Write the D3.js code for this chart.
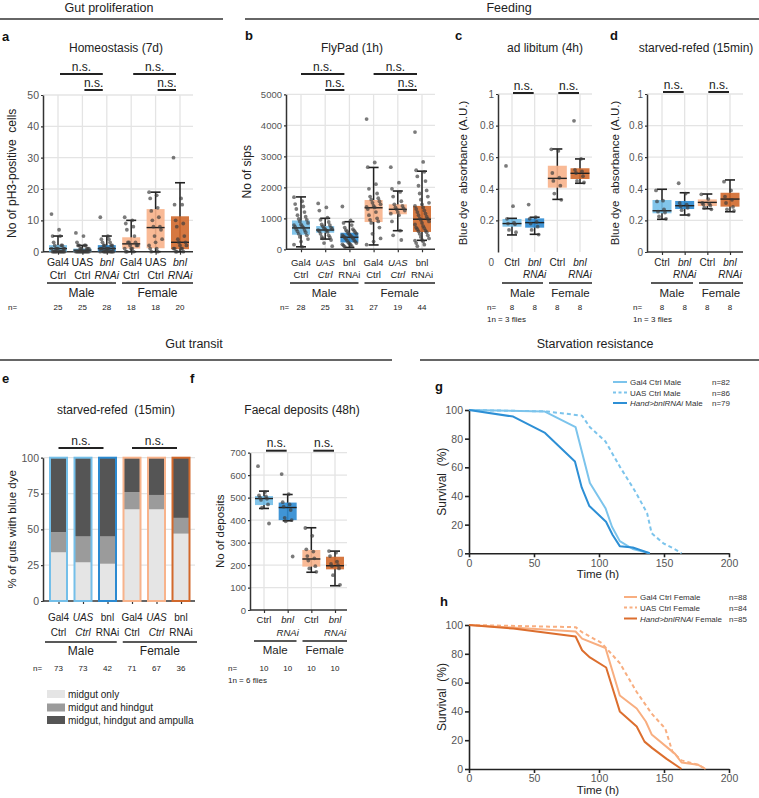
<!DOCTYPE html>
<html><head><meta charset="utf-8">
<script src="https://cdn.jsdelivr.net/npm/d3@7"></script>
<style>body{margin:0;background:#fff} text{white-space:pre}</style>
</head><body><script>
// ---------------- DATA ----------------
const LB = "#74bfe9", DB = "#2b8ad1", LO = "#f8b38b", DO = "#d2692c";
// Panel a: Homeostasis (7d) -- stats [low whisker, q1, median, q3, high whisker]
const aLab1 = ["Gal4","UAS","bnl","Gal4","UAS","bnl"];
const aLab2 = ["Ctrl","Ctrl","RNAi","Ctrl","Ctrl","RNAi"];
const aItal = [0,0,1,0,0,1];
const aStats = [[0,0,1,2.1,5],[0,0,0.5,1,2],[0,0,1,2.1,5],[0,1,2.5,4.6,10],[0,1.1,7.7,13.6,19],[0,0.8,3,11.3,22]];
const aPoints = [
  [12,7,5,5,3,2,2,2,1,1,1,1,1,1,0,0,0,0,0,0,0,0,0,0,0],
  [6,5,3,2,2,2,2,1,1,1,1,1,0,0,0,0,0,0,0,0,0,0,0,0,0],
  [11,5,4,4,3,3,2,2,2,2,1,1,1,1,1,1,1,1,0,0,0,0,0,0,0,0,0,0],
  [11,10,9,8,7,5,3,3,3,2,2,2,1,1,1,0,0,0],
  [19,18,17,14,13,11,10,8,8,7,5,4,3,2,1,1,0,0],
  [30,17,15,15,10,9,8,5,4,3,3,2,2,1,1,1,1,0,0,0]];
const aN = [25,25,28,18,18,20];
const aTicks = [0,10,20,30,40,50];
// Panel b: FlyPad (1h)
const bLab1 = ["Gal4","UAS","bnl","Gal4","UAS","bnl"];
const bLab2 = ["Ctrl","Ctrl","RNAi","Ctrl","Ctrl","RNAi"];
const bItal = [0,1,0,0,1,0];
const bStats = [[80,470,690,930,1690],[330,535,622,750,1000],[60,220,390,535,890],[140,880,1340,1590,2640],[600,1130,1290,1450,1880],[290,560,970,1400,2520]];
const bPoints = [
  [1680,1550,1460,1380,1300,1200,1100,1050,980,950,900,850,800,780,750,720,700,650,620,580,550,500,450,400,330,250,150,80],
  [1480,1350,1250,1020,950,880,800,780,740,700,680,660,650,620,600,580,560,500,450,400,380,350,300,200,100],
  [1380,930,850,780,700,650,620,600,580,550,520,500,480,460,440,420,400,380,360,340,300,280,250,220,200,180,160,150,120,100,80],
  [4200,2800,2650,2100,1950,1800,1700,1650,1600,1550,1500,1450,1400,1370,1350,1300,1200,1100,1000,950,900,850,700,500,350,250,150],
  [2650,2150,1950,1850,1700,1550,1450,1400,1350,1320,1290,1250,1200,1150,1100,900,600,450,300],
  [3780,2820,2550,2500,2350,2200,2050,1900,1800,1700,1600,1500,1450,1400,1350,1300,1250,1200,1150,1100,1050,1000,980,950,900,850,800,750,700,680,650,600,580,550,500,450,400,350,300,280,250,200,150,100]];
const bN = [28,25,31,27,19,44];
const bTicks = [0,1000,2000,3000,4000,5000];
// Panels c, d, f share categories
const cdLab1 = ["Ctrl","bnl","Ctrl","bnl"];
const cdLab2 = ["","RNAi","","RNAi"];
const cdItal = [0,1,0,1];
// Panel c: ad libitum (4h)
const cStats = [[0.108,0.16,0.18,0.209,0.213],[0.112,0.154,0.186,0.213,0.22],[0.333,0.407,0.466,0.546,0.652],[0.435,0.462,0.498,0.53,0.589]];
const cPoints = [[0.545,0.29,0.21,0.185,0.18,0.175,0.14,0.125],[0.30,0.22,0.21,0.19,0.18,0.16,0.14,0.11],
  [0.65,0.64,0.50,0.47,0.45,0.42,0.37,0.33],[0.83,0.59,0.52,0.51,0.50,0.48,0.45,0.44]];
const cN = [8,8,8,8];
const absTicks = [0,0.2,0.4,0.6,0.8,1];
// Panel d: starved-refed (15min)
const dStats = [[0.207,0.245,0.261,0.329,0.397],[0.234,0.272,0.293,0.323,0.375],[0.274,0.291,0.314,0.333,0.367],[0.255,0.287,0.335,0.375,0.456]];
const dPoints = [[0.39,0.325,0.32,0.27,0.255,0.25,0.225,0.21],[0.435,0.37,0.31,0.30,0.29,0.28,0.265,0.235],
  [0.365,0.335,0.31,0.305,0.30,0.295,0.28,0.27],[0.445,0.39,0.35,0.33,0.31,0.285,0.27,0.26]];
const dN = [8,8,8,8];
// Panel e: gut transit stacked percentages
const eLab1 = ["Gal4","UAS","bnl","Gal4","UAS","bnl"];
const eLab2 = ["Ctrl","Ctrl","RNAi","Ctrl","Ctrl","RNAi"];
const eItal = [0,1,0,0,1,0];
const eMidgut = [34,27,26,64,64,47];
const eHindgut = [14,18,19,12,10,11];
const eAmpulla = [52,55,55,24,26,42];
const eN = [73,73,42,71,67,36];
const eTicks = [0,25,50,75,100];
const eSeries = ["midgut only","midgut and hindgut","midgut, hindgut and ampulla"];
// Panel f: faecal deposits (48h)
const fStats = [[452,467,496,507,529],[397,400,456,478,514],[168,193,227,267,366],[108,181,197,237,262]];
const fPoints = [[640,525,510,505,500,495,490,470,455,385],[605,515,480,470,460,445,410,400,395,238],
  [365,330,270,260,240,230,220,195,185,170],[262,255,240,215,205,200,195,185,155,112]];
const fN = [10,10,10,10];
const fTicks = [0,100,200,300,400,500,600,700];
// Panel g: male survival
const survTicksX = [0,50,100,150,200];
const survTicksY = [0,20,40,60,80,100];
const gGal4T = [0,58,82,93,105,110,116,126,139];
const gGal4S = [100,99,88,49,31.5,18.5,8.5,3,0];
const gUasT = [0,60,87,93,105,116,128,137,140.5,149.5,157,163.5];
const gUasS = [100,99,96,88,78,60.5,43,28,14,7,3.5,0];
const gBnlT = [0,34,58.5,81.5,86.7,92.6,105.4,110.5,116,126,139];
const gBnlS = [100,95.4,84,64,46,33,22,12.8,5,4,0];
const gNames = ["Gal4 Ctrl Male","UAS Ctrl Male","Male"];
const gN = ["n=82","n=86","n=79"];
// Panel h: female survival
const hGal4T = [0,82,87,105,116,129,136,140.5,158.5,163.5,176,182];
const hGal4S = [100,95.5,90.5,84,51,42,33,24,10.5,4.5,3,0];
const hUasT = [0,82,87,102,116,129,140.5,151,156.5,163.5,176,182];
const hUasS = [100,98.5,95,87.5,73.5,53.5,38.5,28,12,6,3,0];
const hBnlT = [0,34,82,87,93,105.5,116,129,135,141,152,163.5];
const hBnlS = [100,97.5,92,82.5,77.5,70.5,40,29.5,19,14.5,7,0];
const hNames = ["Gal4 Ctrl Female","UAS Ctrl Female","Female"];
const hN = ["n=88","n=84","n=85"];

// ---------------- DRAWING ----------------
const F = "'Liberation Sans', Arial, Helvetica, sans-serif";
const GRID = "#e4e4e4", AX = "#333", TK = "#555";
const svg = d3.select("body").append("svg").attr("width",759).attr("height",798).style("display","block");

function T(x,y,s,o={}) {
  const t = svg.append("text").attr("x",x).attr("y",y).text(s)
    .attr("font-family",F).attr("font-size",o.fs||12).attr("fill",o.fill||"#222")
    .attr("text-anchor",o.anchor||"middle");
  if (o.bold) t.attr("font-weight","bold");
  if (o.italic) t.attr("font-style","italic");
  return t;
}
function L(x1,y1,x2,y2,o={}) {
  return svg.append("line").attr("x1",x1).attr("y1",y1).attr("x2",x2).attr("y2",y2)
    .attr("stroke",o.stroke||"#222").attr("stroke-width",o.w||1.5);
}
function yLabel(cx, cy, s, fs) {
  svg.append("text").attr("transform",`translate(${cx+fs*0.35},${cy}) rotate(-90)`)
    .attr("text-anchor","middle").attr("font-family",F).attr("font-size",fs).attr("fill","#222").text(s);
}
function styleAxis(g, fs) {
  g.selectAll(".domain").attr("stroke",AX).attr("stroke-width",1.5);
  g.selectAll(".tick line").attr("stroke",AX).attr("stroke-width",1.2);
  g.selectAll(".tick text").attr("font-family",F).attr("font-size",fs).attr("fill",TK);
}
const jit = (k) => (((k*7)%13)/12 - 0.5);

// Section headers
T(109,11.5,"Gut proliferation",{fs:12.5}); L(0,19,223,19,{stroke:"#333"});
T(509,11.5,"Feeding",{fs:12.5}); L(245,19,759,19,{stroke:"#333"});
T(194,348,"Gut transit",{fs:12.5}); L(0,360,392,360,{stroke:"#333"});
T(595,348,"Starvation resistance",{fs:12.5}); L(420,360,759,360,{stroke:"#333"});

// Panel letters
[["a",2,41],["b",245,40],["c",455,40],["d",610,40],["e",2,383],["f",190,383],["g",435,391],["h",440,606]]
  .forEach(([s,x,y]) => T(x,y,s,{bold:true,anchor:"start",fs:13,fill:"#111"}));

// Titles
T(116,52,"Homeostasis (7d)");
T(352,52,"FlyPad (1h)");
T(545,52,"ad libitum (4h)");
T(696,52,"starved-refed (15min)");
T(116,414,"starved-refed  (15min)");
T(302,414,"Faecal deposits (48h)");

function boxPanel(c) {
  const n = c.stats.length;
  const y = d3.scaleLinear().domain([c.ticks[0], c.ticks[c.ticks.length-1]]).range([c.yBot, c.yTop]);
  const x = d3.scalePoint().domain(d3.range(n)).range([c.c0, c.c1]);
  const g = svg.append("g");
  g.selectAll(null).data(c.ticks.slice(1)).join("line")
    .attr("x1",c.ax).attr("x2",c.right).attr("y1",d=>y(d)).attr("y2",d=>y(d))
    .attr("stroke",GRID).attr("stroke-width",1.3);
  g.selectAll(null).data(x.domain()).join("line")
    .attr("x1",d=>x(d)).attr("x2",d=>x(d)).attr("y1",c.yTop).attr("y2",c.yBot)
    .attr("stroke",GRID).attr("stroke-width",1.3);
  const fmt = c.fmt || (d=>d);
  const ya = g.append("g").attr("transform",`translate(${c.ax},0)`)
    .call(d3.axisLeft(y).tickValues(c.shown || c.ticks).tickSize(2).tickPadding(2).tickSizeOuter(0).tickFormat(fmt));
  styleAxis(ya, c.tickFs);
  if (c.xAxis) {
    const xa = g.append("g").attr("transform",`translate(0,${c.yBot})`)
      .call(d3.axisBottom(x).tickSize(3).tickFormat(""));
    xa.select(".domain").remove();
    styleAxis(xa, c.tickFs);
    g.append("line").attr("x1",c.ax).attr("x2",c.right).attr("y1",c.yBot).attr("y2",c.yBot)
      .attr("stroke",AX).attr("stroke-width",1.5);
  }
  const bw = c.bw, cap = 5;
  c.stats.forEach((s,i) => {
    const [lo,q1,md,q3,hi] = s, cx = x(i);
    g.append("line").attr("x1",cx).attr("x2",cx).attr("y1",y(lo)).attr("y2",y(hi)).attr("stroke","#222").attr("stroke-width",1.5);
    g.append("rect").attr("x",cx-bw/2).attr("width",bw).attr("y",y(q3)).attr("height",Math.max(1,y(q1)-y(q3)))
      .attr("fill",c.colors[i]).attr("fill-opacity",0.9);
    [lo,hi].forEach(v => g.append("line").attr("x1",cx-cap).attr("x2",cx+cap).attr("y1",y(v)).attr("y2",y(v)).attr("stroke","#222").attr("stroke-width",1.6));
    g.append("line").attr("x1",cx-bw/2).attr("x2",cx+bw/2).attr("y1",y(md)).attr("y2",y(md)).attr("stroke","#222").attr("stroke-width",1.4);
    g.selectAll(null).data(c.points[i]).join("circle")
      .attr("cx",(d,k)=>cx + jit(k)*c.jw).attr("cy",d=>y(d)).attr("r",1.9)
      .attr("fill","#3c3c3c").attr("fill-opacity",0.68);
  });
  c.sig.forEach(([i,j,r]) => {
    const x1 = x(i)+c.sigPad[0], x2 = x(j)-c.sigPad[1], yy = c.sigY[r];
    L(x1,yy,x2,yy,{w:2,stroke:"#222"});
    T((x1+x2)/2, yy-3.5, "n.s.", {fs:12});
  });
  d3.range(n).forEach(i => {
    if (c.lab1[i]) T(x(i), c.lab1Y, c.lab1[i], {fs:c.labFs, italic:!!c.ital[i]});
    if (c.lab2[i]) T(x(i), c.lab2Y, c.lab2[i], {fs:c.labFs, italic:!!c.ital[i]});
  });
  const half = n/2;
  const mid = (x(half-1)+x(half))/2;
  L(c.ax+4, c.groupY, mid-3, c.groupY, {w:1.5});
  L(mid+3, c.groupY, c.right, c.groupY, {w:1.5});
  T((c.ax+4+mid-3)/2, c.groupTextY, "Male", {fs:c.groupFs});
  T((mid+3+c.right)/2, c.groupTextY, "Female", {fs:c.groupFs});
  T(c.nX, c.nY, "n=", {fs:8, anchor:"start"});
  c.nVals.forEach((v,i) => T(x(i), c.nY, String(v), {fs:8}));
  if (c.note) T(c.nX, c.nY+11.5, c.note, {fs:8, anchor:"start"});
  yLabel(c.ylabX, (c.yTop+c.yBot)/2, c.ylabel, c.ylabFs);
  return {x, y};
}

const col6 = [LB,LB,DB,LO,LO,DO], col4 = [LB,DB,LO,DO];
const absFmt = d => d===0 ? "0" : (d===1 ? "1" : d3.format(".1f")(d));

boxPanel({ax:43,right:193,yTop:95,yBot:251.7,c0:58,c1:180,ticks:aTicks,tickFs:10.5,bw:18,jw:13,
  stats:aStats,points:aPoints,colors:col6,xAxis:true,
  sig:[[0,2,0],[1,2,1],[3,5,0],[4,5,1]],sigY:[74,90],sigPad:[2,4],
  lab1:aLab1,lab2:aLab2,ital:aItal,lab1Y:265.5,lab2Y:279,labFs:10.5,
  groupY:283,groupTextY:297,groupFs:12,nX:8,nY:310,nVals:aN,
  ylabel:"No of pH3-positive  cells",ylabX:12,ylabFs:12});

boxPanel({ax:286,right:435,yTop:94.3,yBot:249.3,c0:301,c1:422,ticks:bTicks,tickFs:9.5,bw:18,jw:14,
  stats:bStats,points:bPoints,colors:col6,xAxis:true,
  sig:[[0,2,0],[1,2,1],[3,5,0],[4,5,1]],sigY:[74,90],sigPad:[0,5],
  lab1:bLab1,lab2:bLab2,ital:bItal,lab1Y:265.5,lab2Y:278,labFs:9.5,
  groupY:283,groupTextY:297,groupFs:11.5,nX:280,nY:310,nVals:bN,
  ylabel:"No of sips",ylabX:247,ylabFs:12});

boxPanel({ax:498,right:592,yTop:94,yBot:252,c0:512,c1:580,ticks:absTicks,shown:absTicks.slice(1),fmt:absFmt,tickFs:10,bw:19,jw:12,
  stats:cStats,points:cPoints,colors:col4,xAxis:false,
  sig:[[0,1,0],[2,3,0]],sigY:[93],sigPad:[1,1],
  lab1:cdLab1,lab2:cdLab2,ital:cdItal,lab1Y:265.5,lab2Y:278,labFs:10,
  groupY:283,groupTextY:297,groupFs:11.5,nX:487,nY:310,nVals:cN,note:"1n = 3 flies",
  ylabel:"Blue dye  absorbance (A.U.)",ylabX:463,ylabFs:11.5});
T(494, 265.5, absFmt(absTicks[0]), {fs:10, fill:TK, anchor:"end"});

boxPanel({ax:647,right:743,yTop:94,yBot:252,c0:662,c1:730,ticks:absTicks,fmt:absFmt,tickFs:10,bw:19,jw:12,
  stats:dStats,points:dPoints,colors:col4,xAxis:true,
  sig:[[0,1,0],[2,3,0]],sigY:[92],sigPad:[1,1],
  lab1:cdLab1,lab2:cdLab2,ital:cdItal,lab1Y:265.5,lab2Y:278,labFs:10,
  groupY:283,groupTextY:297,groupFs:11.5,nX:633,nY:310,nVals:dN,note:"1n = 3 flies",
  ylabel:"Blue dye  absorbance (A.U.)",ylabX:615,ylabFs:11.5});

boxPanel({ax:250,right:347,yTop:452.7,yBot:610,c0:264,c1:335,ticks:fTicks,tickFs:9.5,bw:18,jw:12,
  stats:fStats,points:fPoints,colors:col4,xAxis:true,
  sig:[[0,1,0],[2,3,0]],sigY:[450.7],sigPad:[2,1],
  lab1:cdLab1,lab2:cdLab2,ital:cdItal,lab1Y:623,lab2Y:635.5,labFs:9.5,
  groupY:641,groupTextY:654,groupFs:11.5,nX:228,nY:671,nVals:fN,note:"1n = 6 flies",
  ylabel:"No of deposits",ylabX:220,ylabFs:11.5});

// ---------- Panel e (stacked bars) ----------
(function(){
  const ax = 43, right = 195, yTop = 457.7, yBot = 601, bw = 17;
  const y = d3.scaleLinear().domain([0,100]).range([yBot,yTop]);
  const x = d3.scalePoint().domain(d3.range(6)).range([58.5,181]);
  const g = svg.append("g");
  g.selectAll(null).data(eTicks.slice(1)).join("line")
    .attr("x1",ax).attr("x2",right).attr("y1",d=>y(d)).attr("y2",d=>y(d)).attr("stroke",GRID).attr("stroke-width",1.3);
  const ya = g.append("g").attr("transform",`translate(${ax},0)`)
    .call(d3.axisLeft(y).tickValues(eTicks).tickSize(2).tickPadding(2).tickSizeOuter(0));
  styleAxis(ya, 10.5);
  const xa = g.append("g").attr("transform",`translate(0,${yBot})`).call(d3.axisBottom(x).tickSize(3).tickFormat(""));
  xa.select(".domain").remove(); styleAxis(xa,10);
  g.append("line").attr("x1",ax).attr("x2",right).attr("y1",yBot).attr("y2",yBot).attr("stroke",AX).attr("stroke-width",1.5);
  const rows = d3.range(6).map(i => ({i, a:eMidgut[i], b:eHindgut[i], c:eAmpulla[i]}));
  const stack = d3.stack().keys(["a","b","c"])(rows);
  const segCol = ["#e5e5e5","#9b9b9b","#555555"];
  stack.forEach((layer,li) => {
    g.selectAll(null).data(layer).join("rect")
      .attr("x",d=>x(d.data.i)-bw/2).attr("width",bw)
      .attr("y",d=>y(d[1])).attr("height",d=>y(d[0])-y(d[1])).attr("fill",segCol[li]);
  });
  g.selectAll(null).data(d3.range(6)).join("rect")
    .attr("x",i=>x(i)-bw/2).attr("width",bw).attr("y",y(100)).attr("height",y(0)-y(100))
    .attr("fill","none").attr("stroke",(i)=>col6[i]).attr("stroke-width",2);
  [[0,2],[3,5]].forEach(([i,j]) => {
    const x1 = x(i), x2 = x(j)-4;
    L(x1,448,x2,448,{w:2}); T((x1+x2)/2,444.5,"n.s.",{fs:12});
  });
  d3.range(6).forEach(i => {
    T(x(i),621,eLab1[i],{fs:10,italic:!!eItal[i]});
    T(x(i),635.5,eLab2[i],{fs:10,italic:!!eItal[i]});
    T(x(i),671,String(eN[i]),{fs:8});
  });
  const mid = (x(2)+x(3))/2;
  L(45,642,mid-3,642); L(mid+3,642,197,642);
  T((45+mid-3)/2,655,"Male",{fs:12}); T((mid+3+197)/2,655,"Female",{fs:12});
  T(33,671,"n=",{fs:8,anchor:"start"});
  yLabel(12,(yTop+yBot)/2,"% of guts with blue dye",11.5);
  eSeries.forEach((s,k) => {
    const cy = [694,707.5,720][k];
    svg.append("rect").attr("x",47).attr("y",cy-4).attr("width",18).attr("height",8).attr("fill",segCol[k]);
    T(68,cy+3.5,s,{fs:10,anchor:"start"});
  });
})();

// ---------- Survival panels ----------
function survPanel(c) {
  const x = d3.scaleLinear().domain([0,200]).range([469,729]);
  const y = d3.scaleLinear().domain([0,100]).range([c.yBot,c.yTop]);
  const g = svg.append("g");
  const xa = g.append("g").attr("transform",`translate(0,${c.yBot})`)
    .call(d3.axisBottom(x).tickValues(survTicksX).tickSize(4).tickPadding(2).tickSizeOuter(0));
  const ya = g.append("g").attr("transform",`translate(469,0)`)
    .call(d3.axisLeft(y).tickValues(survTicksY).tickSize(4).tickPadding(2).tickSizeOuter(0));
  [xa,ya].forEach(a => { styleAxis(a,10.5); a.selectAll(".domain,.tick line").attr("stroke","#222").attr("stroke-width",1.6); });
  const line = d3.line().x(d=>x(d[0])).y(d=>y(d[1]));
  c.series.forEach(s => {
    g.append("path").datum(s.t.map((t,k)=>[t,s.s[k]])).attr("d",line)
      .attr("fill","none").attr("stroke",s.color).attr("stroke-width",2)
      .attr("stroke-dasharray",s.dash||null).attr("stroke-linejoin","round");
  });
  T(598,c.timeY,"Time (h)",{fs:11.5});
  yLabel(442,(c.yTop+c.yBot)/2,"Survival  (%)",12);
  c.series.forEach((s,k) => {
    const yy = c.legY[k];
    L(c.legX0,yy-3,c.legX1,yy-3,{stroke:s.color,w:2}).attr("stroke-dasharray",s.dash?"3,2.5":null);
    const t = T(c.legX1+3,yy,"",{fs:8,anchor:"start",fill:"#333"});
    if (k===2) { t.append("tspan").attr("font-style","italic").text("Hand>bnlRNAi"); t.append("tspan").text(" "+c.names[k]); }
    else t.text(c.names[k]);
    T(c.nX,yy,c.ns[k],{fs:8,anchor:"start",fill:"#333"});
  });
}
survPanel({yTop:410,yBot:553.3,timeY:578,legX0:613,legX1:627,nX:712,legY:[385,395.5,406],names:gNames,ns:gN,
  series:[{t:gGal4T,s:gGal4S,color:"#7cc4ec"},{t:gUasT,s:gUasS,color:"#7cc4ec",dash:"4,3"},{t:gBnlT,s:gBnlS,color:"#2d8fd5"}]});
survPanel({yTop:625,yBot:769,timeY:794,legX0:624,legX1:637,nX:729,legY:[600,610.5,621.5],names:hNames,ns:hN,
  series:[{t:hGal4T,s:hGal4S,color:"#f8ae80"},{t:hUasT,s:hUasS,color:"#f8ae80",dash:"4,3"},{t:hBnlT,s:hBnlS,color:"#dc6e2e"}]});
</script></body></html>
